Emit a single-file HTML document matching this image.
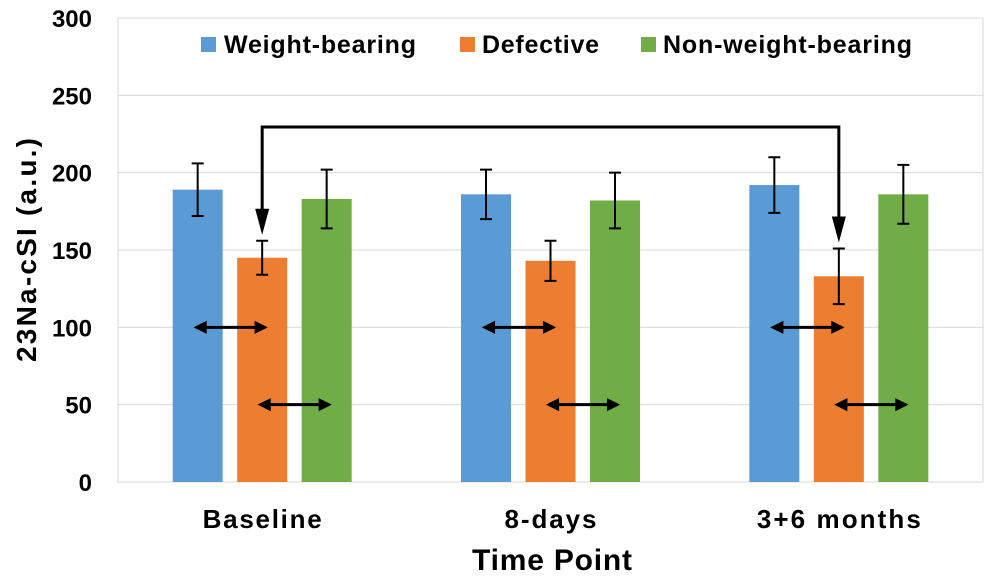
<!DOCTYPE html>
<html><head><meta charset="utf-8"><style>
html,body{margin:0;padding:0;background:#fff;}
svg{display:block;font-family:"Liberation Sans",Arial,sans-serif;font-weight:bold;}
</style></head><body>
<svg id="chart" width="993" height="576" viewBox="0 0 993 576">
<defs>
<marker id="ah" viewBox="0 0 10 10" refX="8" refY="5" markerWidth="4.8" markerHeight="4.4" orient="auto-start-reverse"><path d="M0,0 L10,5 L0,10 z" fill="#000"/></marker>
</defs>
<rect x="118" y="18" width="865" height="464" fill="none" stroke="#d9d9d9"/>
<g id="grid"></g><g id="bars"></g><g id="ann"></g>
<g id="legend" font-size="25">
<rect x="201" y="37" width="15" height="15" fill="#5b9bd5"/>
<text x="224" y="53" textLength="192">Weight-bearing</text>
<rect x="460" y="37" width="15" height="15" fill="#ed7d31"/>
<text x="482" y="53" textLength="117">Defective</text>
<rect x="641" y="37" width="15" height="15" fill="#70ad47"/>
<text x="663" y="53" textLength="249">Non-weight-bearing</text>
</g>
<text x="0" y="0" transform="translate(36,250) rotate(-90)" text-anchor="middle" font-size="28" textLength="224">23Na-cSI (a.u.)</text>
<text x="552" y="570" text-anchor="middle" font-size="30" textLength="160">Time Point</text>
</svg>
<script>
const categories=["Baseline","8-days","3+6 months"];
const catWidths=[119,92,164];
const weightBearing=[189,186,192];
const weightBearingErr=[17,16,18];
const defective=[145,143,133];
const defectiveErr=[11,13,18];
const nonWeightBearing=[183,182,186];
const nonWeightBearingErr=[19,18,19];
const yTicks=[0,50,100,150,200,250,300];
const NS="http://www.w3.org/2000/svg";
const L=118,R=983,T=18,B=482;
const y=v=>B-(v/300)*(B-T);
const gw=(R-L)/categories.length;
const cx=i=>L+gw*(i+0.5);
function mk(tag,at,parent){const e=document.createElementNS(NS,tag);for(const k in at)e.setAttribute(k,at[k]);parent.appendChild(e);return e;}
const grid=document.getElementById('grid'),bars=document.getElementById('bars'),ann=document.getElementById('ann');
yTicks.forEach(t=>{
 if(t>0&&t<300){const g=mk('line',{x1:L,x2:R,y1:y(t),y2:y(t),stroke:'#d9d9d9','stroke-width':1},grid);
 
 }
 const tx=mk('text',{x:92,y:y(t)+9,'text-anchor':'end','font-size':24},grid);tx.textContent=t;
 
 
});
const series=[[weightBearing,weightBearingErr,'#5b9bd5','weight-bearing',-64.5],[defective,defectiveErr,'#ed7d31','defective',0],[nonWeightBearing,nonWeightBearingErr,'#70ad47','non-weight-bearing',64.5]];
categories.forEach((c,i)=>{
 series.forEach(s=>{
  const v=s[0][i],e=s[1][i],x=cx(i)+s[4];
  const r=mk('rect',{x:x-25,y:y(v),width:50,height:B-y(v),fill:s[2]},bars);
  
  
  const eb=mk('path',{d:`M${x},${y(v+e)}V${y(v-e)}M${x-6},${y(v+e)}H${x+6}M${x-6},${y(v-e)}H${x+6}`,stroke:'#000','stroke-width':2,fill:'none'},bars);
  
  
 });
 const t=mk('text',{x:cx(i),y:528,'text-anchor':'middle','font-size':26,textLength:catWidths[i]},bars);t.textContent=c;
 
 
 const a1=mk('line',{x1:cx(i)-66,x2:cx(i)+3,y1:y(100),y2:y(100),stroke:'#000','stroke-width':3,'marker-start':'url(#ah)','marker-end':'url(#ah)'},ann);
 
 
 const a2=mk('line',{x1:cx(i)-2,x2:cx(i)+67,y1:y(50),y2:y(50),stroke:'#000','stroke-width':3,'marker-start':'url(#ah)','marker-end':'url(#ah)'},ann);
 
 
});
const yb=127;
const br=mk('path',{d:`M${cx(0)},${y(defective[0]+defectiveErr[0])-24}V${yb}H${cx(2)}V${y(defective[2]+defectiveErr[2])-24}`,stroke:'#000','stroke-width':3,fill:'none'},ann);


[0,2].forEach(i=>{const tip=y(defective[i]+defectiveErr[i])-6;
 const p=mk('path',{d:`M${cx(i)-7},${tip-26}L${cx(i)+7},${tip-26}L${cx(i)},${tip}z`,fill:'#000'},ann);
 
 });
</script>
</body></html>
